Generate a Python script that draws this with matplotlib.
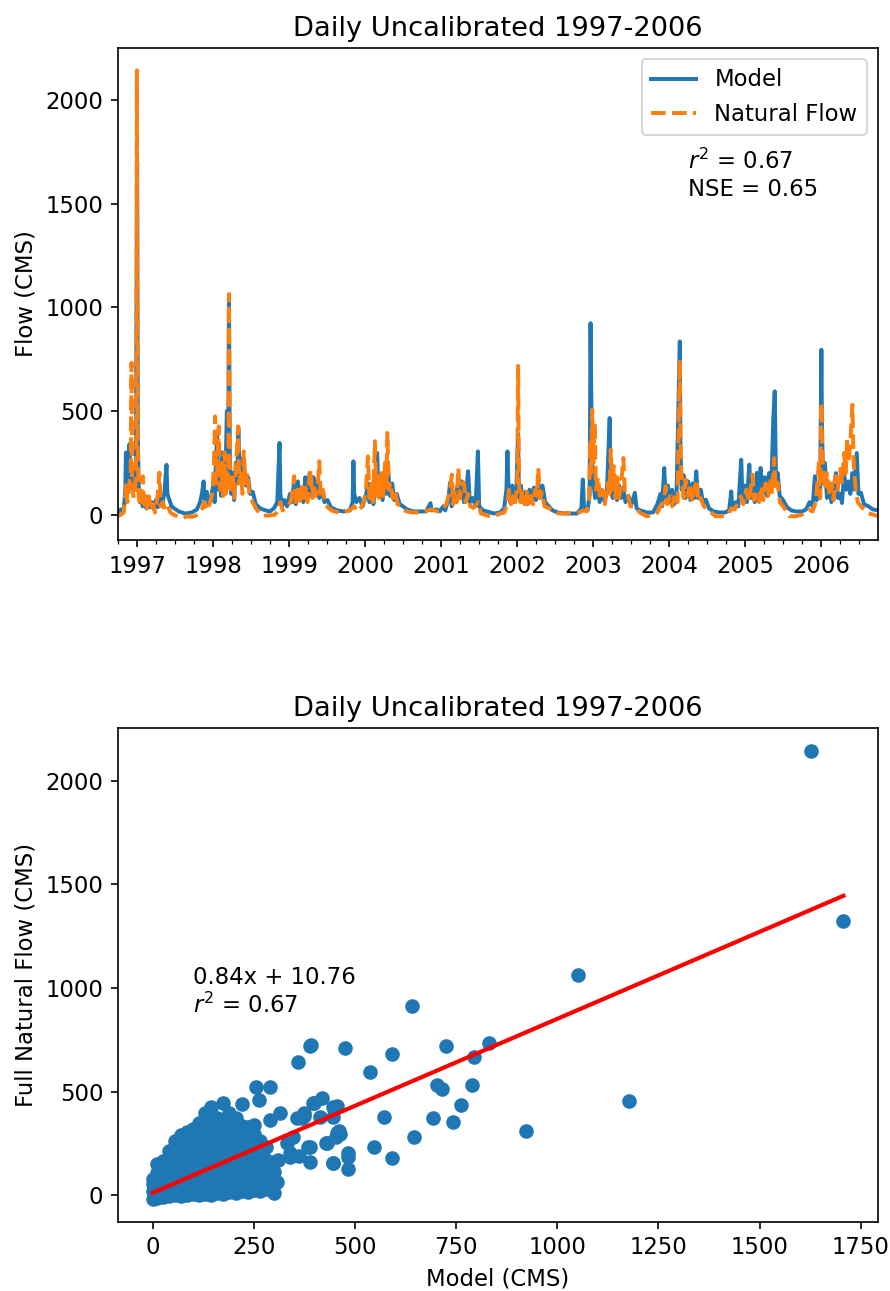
import numpy as np
import pandas as pd
import matplotlib
matplotlib.use("Agg")
import matplotlib.pyplot as plt
import matplotlib.dates as mdates

# Daily flows (CMS) as (date, value) checkpoints
model_series = [
    # WY1997
    ("1996-10-01", 10), ("1996-10-15", 25), ("1996-10-28", 15), ("1996-11-05", 120),
    ("1996-11-08", 300), ("1996-11-12", 150), ("1996-11-18", 250), ("1996-11-25", 340),
    ("1996-11-30", 130), ("1996-12-05", 250), ("1996-12-12", 120), ("1996-12-20", 200),
    ("1996-12-26", 140), ("1996-12-31", 1625), ("1997-01-01", 1705), ("1997-01-04", 400),
    ("1997-01-08", 150), ("1997-01-14", 60), ("1997-01-20", 110), ("1997-01-27", 40),
    ("1997-02-05", 80), ("1997-02-14", 30), ("1997-02-22", 70), ("1997-03-03", 35),
    ("1997-03-12", 60), ("1997-03-22", 25), ("1997-04-01", 70), ("1997-04-10", 35),
    ("1997-04-20", 90), ("1997-05-01", 40), ("1997-05-12", 110), ("1997-05-22", 240),
    ("1997-05-26", 100), ("1997-06-05", 70), ("1997-06-15", 40), ("1997-06-28", 30),
    ("1997-07-20", 15), ("1997-08-20", 5), ("1997-09-20", 10),
    # WY1998
    ("1997-10-15", 25), ("1997-10-30", 60), ("1997-11-08", 100), ("1997-11-16", 160),
    ("1997-11-22", 70), ("1997-12-01", 110), ("1997-12-12", 50), ("1997-12-22", 80),
    ("1998-01-03", 150), ("1998-01-08", 60), ("1998-01-14", 250), ("1998-01-20", 380),
    ("1998-01-26", 120), ("1998-02-02", 200), ("1998-02-08", 90), ("1998-02-15", 300),
    ("1998-02-22", 100), ("1998-03-01", 180), ("1998-03-08", 500), ("1998-03-14", 150),
    ("1998-03-18", 1050), ("1998-03-22", 300), ("1998-03-28", 100), ("1998-04-05", 200),
    ("1998-04-12", 70), ("1998-04-20", 250), ("1998-04-27", 150), ("1998-05-02", 420),
    ("1998-05-08", 200), ("1998-05-15", 270), ("1998-05-22", 160), ("1998-05-30", 230),
    ("1998-06-08", 140), ("1998-06-18", 180), ("1998-06-28", 100), ("1998-07-10", 110),
    ("1998-07-25", 50), ("1998-08-15", 30), ("1998-09-10", 20), ("1998-09-30", 15),
    # WY1999
    ("1998-10-20", 30), ("1998-11-05", 60), ("1998-11-16", 346), ("1998-11-20", 100),
    ("1998-11-28", 40), ("1998-12-10", 70), ("1998-12-22", 40), ("1999-01-05", 100),
    ("1999-01-15", 60), ("1999-01-24", 150), ("1999-02-02", 50), ("1999-02-12", 160),
    ("1999-02-20", 70), ("1999-03-01", 120), ("1999-03-10", 60), ("1999-03-20", 180),
    ("1999-03-30", 80), ("1999-04-10", 200), ("1999-04-18", 90), ("1999-04-28", 180),
    ("1999-05-06", 100), ("1999-05-16", 160), ("1999-05-26", 80), ("1999-06-08", 110),
    ("1999-06-20", 60), ("1999-07-05", 70), ("1999-07-20", 35), ("1999-08-20", 20),
    ("1999-09-20", 15),
    # WY2000
    ("1999-10-20", 20), ("1999-11-02", 60), ("1999-11-06", 257), ("1999-11-10", 100),
    ("1999-11-20", 60), ("1999-12-05", 80), ("1999-12-20", 40), ("2000-01-05", 90),
    ("2000-01-15", 150), ("2000-01-22", 60), ("2000-02-01", 120), ("2000-02-10", 50),
    ("2000-02-20", 170), ("2000-02-28", 297), ("2000-03-05", 100), ("2000-03-15", 180),
    ("2000-03-25", 70), ("2000-04-05", 200), ("2000-04-12", 100), ("2000-04-20", 220),
    ("2000-04-30", 90), ("2000-05-10", 150), ("2000-05-20", 70), ("2000-06-01", 100),
    ("2000-06-15", 50), ("2000-07-01", 40), ("2000-07-20", 25), ("2000-08-20", 15),
    ("2000-09-20", 15),
    # WY2001
    ("2000-10-20", 15), ("2000-11-10", 55), ("2000-11-15", 20), ("2000-12-10", 25),
    ("2000-12-25", 15), ("2001-01-10", 40), ("2001-01-20", 20), ("2001-02-05", 80),
    ("2001-02-12", 154), ("2001-02-20", 40), ("2001-03-01", 110), ("2001-03-10", 60),
    ("2001-03-20", 140), ("2001-04-01", 80), ("2001-04-10", 160), ("2001-04-20", 60),
    ("2001-05-01", 120), ("2001-05-10", 209), ("2001-05-18", 60), ("2001-06-01", 80),
    ("2001-06-15", 40), ("2001-06-26", 305), ("2001-07-02", 40), ("2001-07-20", 20),
    ("2001-08-10", 15), ("2001-09-10", 5),
    # WY2002
    ("2001-10-10", 10), ("2001-10-30", 30), ("2001-11-10", 120), ("2001-11-15", 305),
    ("2001-11-20", 120), ("2001-11-28", 60), ("2001-12-08", 140), ("2001-12-18", 60),
    ("2001-12-28", 120), ("2002-01-05", 390), ("2002-01-09", 80), ("2002-01-18", 140),
    ("2002-01-28", 60), ("2002-02-08", 110), ("2002-02-18", 50), ("2002-03-01", 120),
    ("2002-03-10", 60), ("2002-03-22", 130), ("2002-04-01", 70), ("2002-04-12", 150),
    ("2002-04-22", 80), ("2002-05-02", 140), ("2002-05-15", 60), ("2002-06-01", 40),
    ("2002-06-20", 20), ("2002-07-15", 10), ("2002-08-15", 5), ("2002-09-15", 5),
    # WY2003
    ("2002-10-15", 5), ("2002-11-05", 30), ("2002-11-12", 169), ("2002-11-18", 30),
    ("2002-12-05", 20), ("2002-12-15", 100), ("2002-12-19", 924), ("2002-12-22", 650),
    ("2002-12-26", 250), ("2003-01-02", 150), ("2003-01-10", 80), ("2003-01-20", 130),
    ("2003-02-01", 60), ("2003-02-12", 110), ("2003-02-25", 60), ("2003-03-08", 120),
    ("2003-03-21", 466), ("2003-03-26", 120), ("2003-04-05", 80), ("2003-04-15", 150),
    ("2003-04-25", 70), ("2003-05-05", 140), ("2003-05-15", 80), ("2003-05-25", 130),
    ("2003-06-05", 60), ("2003-06-20", 90), ("2003-07-01", 40), ("2003-07-20", 105),
    ("2003-07-28", 30), ("2003-08-15", 20), ("2003-09-15", 10),
    # WY2004
    ("2003-10-15", 10), ("2003-11-05", 50), ("2003-11-20", 100), ("2003-11-28", 40),
    ("2003-12-08", 225), ("2003-12-15", 80), ("2003-12-25", 140), ("2004-01-05", 60),
    ("2004-01-15", 120), ("2004-01-25", 50), ("2004-02-05", 90), ("2004-02-21", 836),
    ("2004-02-24", 300), ("2004-03-01", 120), ("2004-03-10", 190), ("2004-03-20", 80),
    ("2004-04-01", 160), ("2004-04-12", 70), ("2004-04-22", 150), ("2004-05-01", 80),
    ("2004-05-10", 209), ("2004-05-18", 80), ("2004-06-01", 120), ("2004-06-12", 50),
    ("2004-06-25", 72), ("2004-07-10", 30), ("2004-08-01", 15), ("2004-09-01", 10),
    ("2004-09-25", 10),
    # WY2005
    ("2004-10-15", 20), ("2004-10-25", 112), ("2004-10-30", 30), ("2004-11-15", 60),
    ("2004-11-28", 40), ("2004-12-12", 265), ("2004-12-18", 80), ("2004-12-28", 140),
    ("2005-01-08", 60), ("2005-01-20", 241), ("2005-01-26", 80), ("2005-02-05", 140),
    ("2005-02-15", 60), ("2005-02-25", 201), ("2005-03-05", 80), ("2005-03-15", 225),
    ("2005-03-25", 100), ("2005-04-05", 180), ("2005-04-15", 90), ("2005-04-25", 200),
    ("2005-05-05", 120), ("2005-05-15", 458), ("2005-05-22", 595), ("2005-05-28", 150),
    ("2005-06-05", 201), ("2005-06-15", 90), ("2005-07-01", 70), ("2005-07-20", 35),
    ("2005-08-10", 20), ("2005-09-01", 15),
    # WY2006
    ("2005-10-01", 15), ("2005-10-20", 25), ("2005-11-05", 60), ("2005-11-20", 40),
    ("2005-12-01", 185), ("2005-12-10", 70), ("2005-12-20", 150), ("2005-12-26", 80),
    ("2006-01-01", 796), ("2006-01-04", 420), ("2006-01-10", 150), ("2006-01-18", 249),
    ("2006-01-28", 80), ("2006-02-08", 150), ("2006-02-18", 60), ("2006-03-01", 130),
    ("2006-03-12", 200), ("2006-03-22", 80), ("2006-04-01", 100), ("2006-04-10", 56),
    ("2006-04-20", 200), ("2006-04-30", 120), ("2006-05-10", 160), ("2006-05-20", 100),
    ("2006-05-30", 200), ("2006-06-08", 120), ("2006-06-20", 297), ("2006-06-28", 100),
    ("2006-07-10", 105), ("2006-07-25", 50), ("2006-08-15", 40), ("2006-09-05", 25),
    ("2006-09-30", 20),
]

natural_series = [
    # WY1997
    ("1996-10-01", -8), ("1996-10-15", 0), ("1996-10-28", 10), ("1996-11-06", 100),
    ("1996-11-10", 150), ("1996-11-15", 60), ("1996-11-22", 120), ("1996-12-01", 200),
    ("1996-12-05", 733), ("1996-12-08", 150), ("1996-12-15", 80), ("1996-12-22", 120),
    ("1996-12-28", 300), ("1996-12-31", 2145), ("1997-01-01", 1325), ("1997-01-03", 400),
    ("1997-01-08", 100), ("1997-01-14", 40), ("1997-01-22", 120), ("1997-01-28", 185),
    ("1997-02-02", 50), ("1997-02-10", 90), ("1997-02-18", 30), ("1997-02-26", 88),
    ("1997-03-08", 20), ("1997-03-18", 50), ("1997-03-28", 10), ("1997-04-08", 80),
    ("1997-04-18", 202), ("1997-04-24", 40), ("1997-05-05", 60), ("1997-05-15", 20),
    ("1997-05-28", 40), ("1997-06-10", 10), ("1997-06-25", 0), ("1997-07-15", -10),
    ("1997-08-10", -15), ("1997-08-30", -8), ("1997-09-20", -12),
    # WY1998
    ("1997-10-10", -5), ("1997-10-25", 5), ("1997-11-10", 30), ("1997-11-20", 60),
    ("1997-12-01", 20), ("1997-12-15", 50), ("1997-12-28", 100), ("1998-01-05", 250),
    ("1998-01-10", 474), ("1998-01-14", 150), ("1998-01-20", 200), ("1998-01-28", 426),
    ("1998-02-03", 120), ("1998-02-10", 250), ("1998-02-18", 90), ("1998-02-25", 300),
    ("1998-03-03", 100), ("1998-03-10", 200), ("1998-03-15", 120), ("1998-03-18", 1065),
    ("1998-03-22", 250), ("1998-03-28", 100), ("1998-04-05", 200), ("1998-04-12", 80),
    ("1998-04-22", 250), ("1998-05-01", 426), ("1998-05-06", 150), ("1998-05-15", 200),
    ("1998-05-22", 100), ("1998-05-28", 305), ("1998-06-05", 150), ("1998-06-15", 200),
    ("1998-06-25", 90), ("1998-07-10", 60), ("1998-07-25", 30), ("1998-08-10", 10),
    ("1998-08-25", -5), ("1998-09-25", -5),
    # WY1999
    ("1998-10-25", 0), ("1998-11-10", 20), ("1998-11-20", 60), ("1998-12-01", 20),
    ("1998-12-20", 40), ("1999-01-08", 60), ("1999-01-18", 120), ("1999-01-25", 185),
    ("1999-02-02", 60), ("1999-02-12", 120), ("1999-02-20", 50), ("1999-03-02", 150),
    ("1999-03-10", 60), ("1999-03-20", 130), ("1999-03-30", 60), ("1999-04-08", 170),
    ("1999-04-15", 217), ("1999-04-22", 80), ("1999-04-30", 150), ("1999-05-08", 90),
    ("1999-05-18", 130), ("1999-05-26", 257), ("1999-06-02", 80), ("1999-06-12", 120),
    ("1999-06-25", 50), ("1999-07-10", 30), ("1999-08-01", 16), ("1999-09-01", 10),
    # WY2000
    ("1999-10-01", 16), ("1999-10-20", 20), ("1999-11-10", 40), ("1999-11-25", 15),
    ("1999-12-10", 30), ("1999-12-25", 60), ("2000-01-05", 120), ("2000-01-15", 281),
    ("2000-01-22", 80), ("2000-02-01", 150), ("2000-02-08", 60), ("2000-02-17", 354),
    ("2000-02-24", 90), ("2000-03-02", 185), ("2000-03-10", 70), ("2000-03-20", 200),
    ("2000-03-28", 90), ("2000-04-06", 250), ("2000-04-12", 120), ("2000-04-17", 394),
    ("2000-04-24", 120), ("2000-05-02", 154), ("2000-05-12", 80), ("2000-05-22", 120),
    ("2000-06-05", 50), ("2000-06-20", 40), ("2000-07-15", 16), ("2000-08-15", 10),
    ("2000-09-15", 10),
    # WY2001
    ("2000-10-15", 16), ("2000-11-15", 25), ("2000-12-15", 15), ("2001-01-10", 30),
    ("2001-01-25", 50), ("2001-02-08", 100), ("2001-02-21", 193), ("2001-02-27", 50),
    ("2001-03-08", 120), ("2001-03-16", 60), ("2001-03-24", 225), ("2001-04-01", 80),
    ("2001-04-10", 150), ("2001-04-20", 154), ("2001-04-28", 60), ("2001-05-10", 100),
    ("2001-05-20", 40), ("2001-06-05", 32), ("2001-06-28", 60), ("2001-07-10", 5),
    ("2001-08-10", -5), ("2001-09-10", -10),
    # WY2002
    ("2001-10-10", 5), ("2001-10-30", 10), ("2001-11-15", 60), ("2001-11-22", 120),
    ("2001-12-02", 50), ("2001-12-12", 100), ("2001-12-22", 60), ("2002-01-01", 150),
    ("2002-01-05", 718), ("2002-01-09", 150), ("2002-01-16", 60), ("2002-01-25", 120),
    ("2002-02-05", 50), ("2002-02-15", 110), ("2002-02-25", 40), ("2002-03-08", 90),
    ("2002-03-18", 50), ("2002-03-28", 120), ("2002-04-06", 90), ("2002-04-12", 225),
    ("2002-04-20", 80), ("2002-05-01", 105), ("2002-05-12", 40), ("2002-06-01", 32),
    ("2002-07-01", 8), ("2002-08-01", 5), ("2002-09-01", 8),
    # WY2003
    ("2002-10-01", 8), ("2002-10-25", 10), ("2002-11-15", 20), ("2002-12-01", 15),
    ("2002-12-12", 80), ("2002-12-18", 362), ("2002-12-22", 200), ("2002-12-27", 506),
    ("2003-01-02", 250), ("2003-01-08", 442), ("2003-01-14", 120), ("2003-01-24", 180),
    ("2003-02-03", 70), ("2003-02-14", 120), ("2003-02-26", 50), ("2003-03-10", 150),
    ("2003-03-20", 100), ("2003-03-26", 313), ("2003-04-02", 120), ("2003-04-10", 233),
    ("2003-04-18", 80), ("2003-04-26", 180), ("2003-05-05", 80), ("2003-05-15", 150),
    ("2003-05-26", 273), ("2003-06-02", 100), ("2003-06-15", 105), ("2003-06-28", 40),
    ("2003-07-15", 40), ("2003-08-15", 8), ("2003-09-15", -8),
    # WY2004
    ("2003-10-15", -5), ("2003-11-05", 10), ("2003-11-20", 40), ("2003-12-05", 60),
    ("2003-12-15", 137), ("2003-12-22", 50), ("2004-01-05", 88), ("2004-01-15", 40),
    ("2004-01-28", 100), ("2004-02-10", 60), ("2004-02-21", 747), ("2004-02-25", 250),
    ("2004-03-02", 169), ("2004-03-10", 80), ("2004-03-20", 169), ("2004-04-01", 90),
    ("2004-04-10", 150), ("2004-04-20", 60), ("2004-05-01", 120), ("2004-05-12", 169),
    ("2004-05-20", 60), ("2004-06-01", 80), ("2004-06-15", 40), ("2004-07-10", 20),
    ("2004-08-10", -8), ("2004-09-10", -8),
    # WY2005
    ("2004-10-10", 0), ("2004-10-25", 30), ("2004-11-10", 24), ("2004-11-28", 60),
    ("2004-12-10", 88), ("2004-12-22", 50), ("2005-01-05", 120), ("2005-01-18", 60),
    ("2005-02-04", 193), ("2005-02-12", 70), ("2005-02-25", 105), ("2005-03-08", 60),
    ("2005-03-18", 137), ("2005-03-28", 70), ("2005-04-08", 150), ("2005-04-20", 90),
    ("2005-05-01", 180), ("2005-05-10", 100), ("2005-05-19", 273), ("2005-05-26", 120),
    ("2005-06-05", 154), ("2005-06-15", 60), ("2005-07-01", 40), ("2005-08-01", -8),
    ("2005-09-01", -8),
    # WY2006
    ("2005-10-01", 0), ("2005-11-01", 24), ("2005-11-20", 15), ("2005-12-05", 60),
    ("2005-12-20", 249), ("2005-12-26", 80), ("2006-01-01", 538), ("2006-01-05", 300),
    ("2006-01-10", 217), ("2006-01-18", 120), ("2006-01-28", 200), ("2006-02-10", 88),
    ("2006-02-20", 150), ("2006-03-01", 70), ("2006-03-10", 185), ("2006-03-20", 120),
    ("2006-04-01", 220), ("2006-04-10", 150), ("2006-04-20", 297), ("2006-04-28", 200),
    ("2006-05-05", 362), ("2006-05-12", 250), ("2006-05-22", 380), ("2006-05-30", 530),
    ("2006-06-05", 250), ("2006-06-15", 120), ("2006-06-25", 60), ("2006-07-10", 40),
    ("2006-08-10", 8), ("2006-09-30", -8),
]

# Scatter: model vs full natural flow (CMS)
scatter_model = [
    0, 0, 0, 0,
    10, 10, 10, 10, 10,
    25, 25, 25, 25, 25,
    40, 40, 40, 40, 40, 40,
    55, 55, 55, 55, 55, 55, 55,
    70, 70, 70, 70, 70, 70, 70, 70,
    85, 85, 85, 85, 85, 85, 85, 85,
    100, 100, 100, 100, 100, 100, 100, 100,
    115, 115, 115, 115, 115, 115, 115, 115, 115,
    130, 130, 130, 130, 130, 130, 130, 130, 130, 130,
    145, 145, 145, 145, 145, 145, 145, 145, 145, 145,
    160, 160, 160, 160, 160, 160, 160, 160, 160,
    175, 175, 175, 175, 175, 175, 175, 175, 175, 175,
    190, 190, 190, 190, 190, 190, 190, 190, 190,
    205, 205, 205, 205, 205, 205, 205, 205, 205,
    220, 220, 220, 220, 220, 220, 220, 220, 220,
    235, 235, 235, 235, 235, 235, 235, 235,
    250, 250, 250, 250, 250, 250, 250, 250, 256,
    265, 265, 265, 265, 265, 265, 262,
    280, 280, 280, 280, 280, 291, 291,
    299, 295, 301, 295, 307, 310, 314,
    332, 340, 340, 348, 357, 363, 369, 373, 375, 385, 388, 390, 391,
    396, 398, 414, 418, 429, 431, 445, 446, 447, 447, 454, 455, 455, 459,
    460, 462, 482, 484, 484, 538, 548, 571, 591, 591, 647, 692, 702, 715,
    742, 762, 789, 795, 832, 922, 1051, 1177, 1626, 1707,
    641, 390, 476, 359, 725,
]
scatter_natural = [
    -20, 20, 55, 80,
    -15, 20, 60, 105, 150,
    -10, 30, 75, 120, 165,
    -5, 40, 85, 130, 175, 215,
    0, 45, 90, 135, 180, 225, 262,
    -5, 40, 85, 130, 175, 220, 265, 290,
    0, 45, 90, 135, 180, 225, 270, 306,
    5, 50, 95, 140, 185, 230, 275, 320,
    0, 45, 90, 135, 180, 225, 270, 315, 346,
    5, 50, 95, 140, 185, 230, 275, 320, 365, 395,
    0, 45, 90, 135, 180, 225, 270, 315, 360, 424,
    10, 55, 100, 145, 190, 235, 280, 325, 370,
    5, 50, 95, 140, 185, 230, 275, 320, 362, 443,
    15, 60, 105, 150, 195, 240, 285, 330, 395,
    10, 55, 100, 145, 190, 235, 280, 325, 370,
    20, 65, 110, 155, 200, 245, 290, 335, 440,
    15, 60, 105, 150, 195, 240, 285, 330,
    25, 70, 115, 160, 205, 250, 295, 340, 520,
    20, 65, 110, 160, 210, 260, 459,
    30, 75, 120, 170, 230, 362, 523,
    11, 60, 110, 160, 64, 169, 395,
    250, 201, 185, 282, 370, 190, 370, 395, 380, 233, 233, 161, 725,
    446, 443, 378, 467, 253, 250, 153, 156, 378, 427, 282, 298, 431, 306,
    309, 293, 124, 201, 182, 596, 233, 375, 683, 177, 279, 370, 531, 511,
    351, 435, 531, 665, 736, 309, 1063, 454, 2145, 1325,
    913, 721, 712, 641, 720,
]

fit_slope = 0.84
fit_intercept = 10.76

BLUE = "#1f77b4"
ORANGE = "#ff7f0e"

plt.rcParams["font.size"] = 10.9
plt.rcParams["axes.titlesize"] = 13.1
plt.rcParams["lines.linewidth"] = 1.9

fig = plt.figure(figsize=(890 / 150, 1291 / 150), dpi=150)

# --- time series ---
ax1 = fig.add_axes([0.1326, 0.5817, 0.8539, 0.3811])
md = pd.to_datetime([d for d, _ in model_series])
mv = [v for _, v in model_series]
nd = pd.to_datetime([d for d, _ in natural_series])
nv = [v for _, v in natural_series]
ax1.plot(md, mv, color=BLUE, label="Model")
ax1.plot(nd, nv, color=ORANGE, linestyle="--", label="Natural Flow")
ax1.set_xlim(pd.Timestamp("1996-10-01"), pd.Timestamp("2006-09-30"))
ax1.xaxis.set_major_locator(mdates.YearLocator())
ax1.xaxis.set_major_formatter(mdates.DateFormatter("%Y"))
ax1.xaxis.set_minor_locator(mdates.MonthLocator(bymonth=[1, 4, 7, 10]))
ax1.set_ylabel("Flow (CMS)")
ax1.set_title("Daily Uncalibrated 1997-2006")
ax1.legend(loc="upper right")
ax1.text(0.75, 0.70, "$r^2$ = 0.67\nNSE = 0.65", transform=ax1.transAxes,
         va="baseline", ha="left")

# --- scatter with linear fit ---
ax2 = fig.add_axes([0.1326, 0.0537, 0.8539, 0.3822])
ax2.scatter(scatter_model, scatter_natural, color=BLUE)
xs = np.array([min(scatter_model), max(scatter_model)])
ax2.plot(xs, fit_slope * xs + fit_intercept, color="red", linewidth=2)
ax2.text(100, 880, "0.84x + 10.76\n$r^2$ = 0.67")
ax2.set_xlabel("Model (CMS)")
ax2.set_ylabel("Full Natural Flow (CMS)")
ax2.set_title("Daily Uncalibrated 1997-2006")

fig.savefig("out.png", dpi=150)
